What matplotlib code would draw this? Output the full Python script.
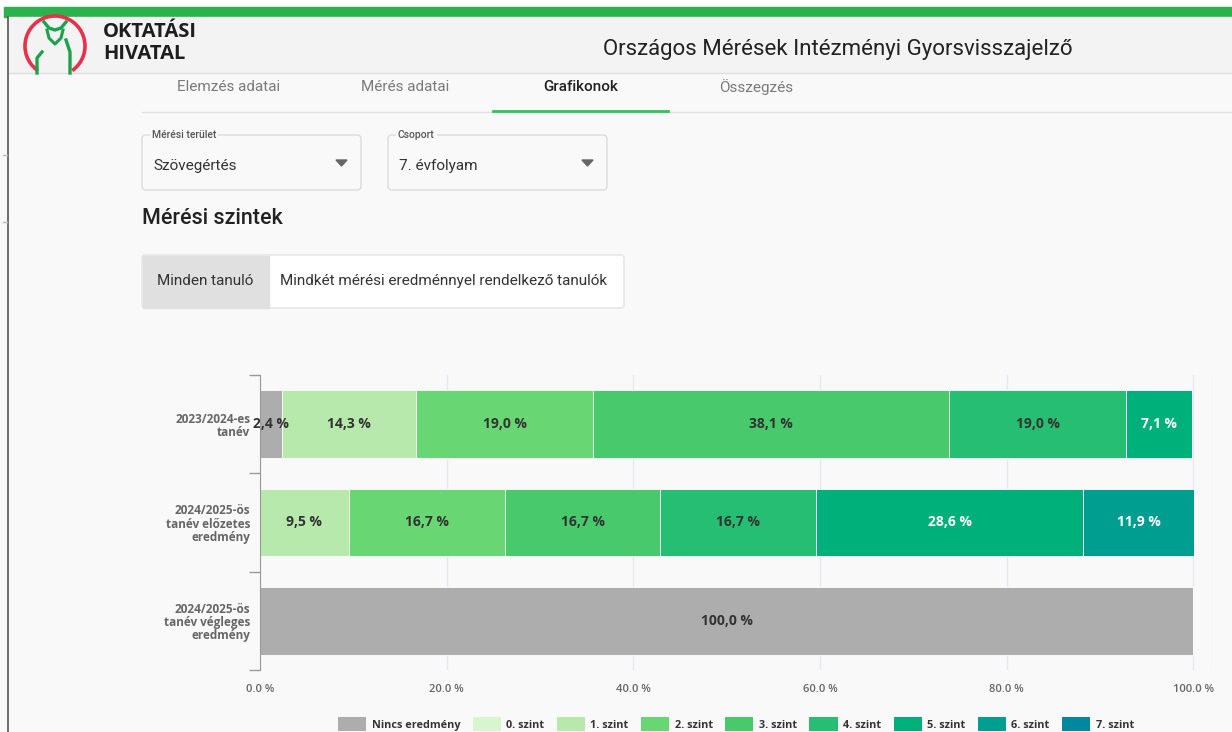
import matplotlib
matplotlib.use("Agg")
from matplotlib import pyplot as plt
from matplotlib.patches import Rectangle, FancyBboxPatch, Arc, Polygon, Patch
import numpy as np

# data
categories = ["2023/2024-es\ntanév",
              "2024/2025-ös\ntanév előzetes\neredmény",
              "2024/2025-ös\ntanév végleges\neredmény"]
levels = ["Nincs eredmény", "0. szint", "1. szint", "2. szint", "3. szint",
          "4. szint", "5. szint", "6. szint", "7. szint"]
level_colors = ["#adadad", "#d9f5d0", "#b6e9ab", "#68d672", "#48c96c",
                "#25be72", "#00b07a", "#009e91", "#00889e"]
nincs = [2.4, 0.0, 100.0]
szint0 = [0.0, 0.0, 0.0]
szint1 = [14.3, 9.5, 0.0]
szint2 = [19.0, 16.7, 0.0]
szint3 = [38.1, 16.7, 0.0]
szint4 = [19.0, 16.7, 0.0]
szint5 = [7.1, 28.6, 0.0]
szint6 = [0.0, 11.9, 0.0]
szint7 = [0.0, 0.0, 0.0]
x_ticks = [0, 20, 40, 60, 80, 100]
tabs = ["Elemzés adatai", "Mérés adatai", "Grafikonok", "Összegzés"]

series = [nincs, szint0, szint1, szint2, szint3, szint4, szint5, szint6, szint7]
white_text = {"5. szint", "6. szint", "7. szint"}

W, H = 1232, 732
fig = plt.figure(figsize=(W / 100, H / 100), dpi=100)
fig.patch.set_facecolor("#f9f9f9")

# page layer in pixel coords
page = fig.add_axes([0, 0, 1, 1])
page.set_xlim(0, W)
page.set_ylim(H, 0)
page.axis("off")

page.add_patch(Rectangle((0, 0), W, 7, color="white"))
page.add_patch(Rectangle((4, 7), W, 10, color="#2bb24c"))
page.add_patch(Rectangle((8, 17), W, 56, color="#f3f3f3"))
page.plot([8, W], [73, 73], color="#dedede", lw=1)
page.plot([8, 8], [17, H], color="#555555", lw=1.2)
page.plot([3, 7], [155, 155], color="#bbbbbb", lw=1)
page.plot([3, 7], [222, 222], color="#bbbbbb", lw=1)

# logo (y axis is flipped, so arc angles are mirrored)
page.add_patch(Arc((55, 46), 60, 60, theta1=125, theta2=415, color="#e8304a", lw=2.6))
page.plot([44, 49, 55, 61, 66], [22, 28, 30, 28, 22], color="#1aa34a", lw=2.4)
page.plot([47, 49, 55, 61, 63], [30, 38, 44, 38, 30], color="#1aa34a", lw=2.2)
page.plot([42, 37, 37], [52, 58, 73], color="#1aa34a", lw=2.4)
page.plot([66, 70, 70], [40, 52, 73], color="#1aa34a", lw=2.4)
page.add_patch(Rectangle((8, 73.5), 100, 8, color="#f9f9f9"))
page.text(103, 32, "OKTATÁSI", fontsize=14.5, fontweight="bold", family="Open Sans",
          color="#1e1e1e", va="center")
page.text(103, 54, "HIVATAL", fontsize=14.5, fontweight="bold", family="Open Sans",
          color="#1e1e1e", va="center")
page.text(838, 50, "Országos Mérések Intézményi Gyorsvisszajelző", fontsize=16,
          family="Roboto", color="#222222", ha="center", va="center")

# tabs
tab_x = [229, 405, 581, 756]
for t, x in zip(tabs, tab_x):
    active = t == "Grafikonok"
    page.text(x, 87, t, fontsize=11, family="Roboto", ha="center", va="center",
              color="#212121" if active else "#7a7a7a",
              fontweight="medium" if active else "normal")
page.plot([142, W], [112, 112], color="#e0e0e0", lw=1)
page.plot([493, 668], [111, 111], color="#2fc45a", lw=2)

# dropdowns
for x0, label, value in [(142, "Mérési terület", "Szövegértés"), (388, "Csoport", "7. évfolyam")]:
    page.add_patch(FancyBboxPatch((x0, 135), 219, 55, boxstyle="round,pad=0,rounding_size=4",
                                  fc="#f9f9f9", ec="#dcdcdc", lw=1))
    page.text(x0 + 10, 135, label, fontsize=7.5, family="Roboto", fontweight="medium",
              color="#555555", va="center",
              bbox=dict(fc="#f9f9f9", ec="none", pad=1.5))
    page.text(x0 + 11, 166, value, fontsize=11, family="Roboto", color="#333333", va="center")
    page.add_patch(Polygon([[x0 + 194, 160], [x0 + 205, 160], [x0 + 199.5, 166]],
                           closed=True, color="#666666"))

page.text(142, 218, "Mérési szintek", fontsize=15.5, family="Roboto", fontweight="medium",
          color="#222222", va="center")

# toggle
page.add_patch(FancyBboxPatch((142, 255), 482, 53, boxstyle="round,pad=0,rounding_size=3",
                              fc="white", ec="#e3e3e3", lw=1))
page.add_patch(Rectangle((142.5, 255.5), 126, 52, color="#e0e0e0"))
page.text(205, 281, "Minden tanuló", fontsize=11, family="Roboto", color="#333333",
          ha="center", va="center")
page.text(280, 281, "Mindkét mérési eredménnyel rendelkező tanulók", fontsize=11,
          family="Roboto", color="#333333", va="center")

# chart
ax = fig.add_axes([260 / W, 1 - 670 / H, (1212 - 260) / W, (670 - 375) / H])
ax.set_facecolor("none")
y = np.arange(len(categories))
left = np.zeros(len(categories))
for name, color, vals in zip(levels, level_colors, series):
    vals = np.array(vals)
    ax.barh(y, vals, left=left, height=0.69, color=color, edgecolor="white",
            linewidth=0.6, zorder=3)
    for yi, l, v in zip(y, left, vals):
        if v > 0:
            ax.text(l + v / 2, yi, f"{v:.1f} %".replace(".", ","), ha="center", va="center",
                    fontsize=10, fontweight="bold", family="Open Sans",
                    color="white" if name in white_text else "#333333", zorder=4)
    left += vals

ax.set_xlim(0, 102)
ax.set_ylim(2.5, -0.5)
ax.set_xticks(x_ticks)
ax.set_xticklabels([f"{t:.1f} %" for t in x_ticks], fontsize=8, family="Open Sans",
                   fontweight="semibold", color="#666666")
ax.tick_params(axis="x", length=0, pad=10)
for t in x_ticks + [102]:
    ax.axvline(t, color="#e6e9f0", lw=1, zorder=1)

ax.set_yticks([-0.5, 0.5, 1.5, 2.5])
ax.set_yticklabels([])
ax.set_yticks(y, minor=True)
ax.set_yticklabels(categories, minor=True, fontsize=8.5, family="Open Sans",
                   fontweight="bold", color="#666666", linespacing=1.0)
ax.tick_params(axis="y", which="major", length=8, color="#999999", width=1)
ax.tick_params(axis="y", which="minor", length=0, pad=7)
for s in ["top", "right", "bottom"]:
    ax.spines[s].set_visible(False)
ax.spines["left"].set_color("#999999")
ax.spines["left"].set_zorder(5)

handles = [Patch(facecolor=c, edgecolor="none") for c in level_colors]
fig.legend(handles, levels, loc="center", bbox_to_anchor=(736 / W, 1 - 724 / H), ncol=9,
           frameon=False, prop=dict(family="Open Sans", weight="bold", size=7.8),
           labelcolor="#333333", handlelength=2.6, handleheight=1.5, handletextpad=0.5,
           columnspacing=1.15)

fig.savefig("out.png", dpi=100, facecolor=fig.get_facecolor())
